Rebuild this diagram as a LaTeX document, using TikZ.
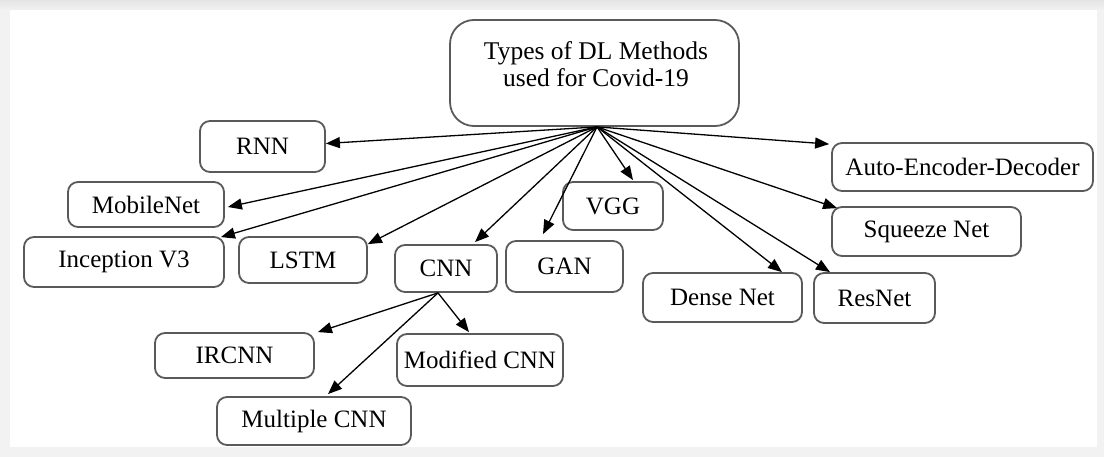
\documentclass[tikz,border=0pt]{standalone}
\usepackage{fontspec}
\setmainfont{Liberation Serif}
\usetikzlibrary{arrows.meta}
\definecolor{pagegray}{HTML}{F2F2F2}
\definecolor{stripgray}{HTML}{E4E4E4}
\definecolor{boxline}{HTML}{5A5A5A}
\begin{document}
\begin{tikzpicture}[x=1pt,y=-1pt,
  box/.style={draw=boxline,line width=1.8pt,rounded corners=10pt,fill=white,
    inner sep=0pt,font=\fontsize{25}{28}\selectfont},
  link/.style={line width=1.3pt,-{Triangle[length=14pt,width=11pt]}}]
  % page frame
  \useasboundingbox (0,0) rectangle (1104,457);
  \fill[pagegray] (0,0) rectangle (1104,457);
  \shade[top color=stripgray,bottom color=pagegray] (0,0) rectangle (1104,10);
  \fill[white] (10,10) rectangle (1097,447);

  % root
  \node[box,rounded corners=24pt,minimum width=289pt,minimum height=106pt] (top) at (594.5,73) {};
  \node[align=center,inner sep=0pt,font=\fontsize{25.5}{27}\selectfont] (toptext) at (596,64)
    {Types of DL Methods\\used for Covid-19};
  \coordinate (o) at ([xshift=2.5pt]top.south);

  % methods
  \node[box,minimum width=125pt,minimum height=51pt] (rnn)   at (262.5,146.5) {RNN};
  \node[box,minimum width=156pt,minimum height=45pt] (mob)   at (146,204.5)   {MobileNet};
  \node[box,minimum width=200pt,minimum height=50pt] (inc)   at (124,262)     {Inception V3};
  \node[box,minimum width=128pt,minimum height=46pt] (lstm)  at (303,260)     {LSTM};
  \node[box,minimum width=102pt,minimum height=47pt] (cnn)   at (446,268.5)   {CNN};
  \node[box,minimum width=117pt,minimum height=51pt] (gan)   at (564.5,266.5) {GAN};
  \node[box,minimum width=100pt,minimum height=48pt] (vgg)   at (613,206)     {VGG};
  \node[box,minimum width=159pt,minimum height=49pt] (dense) at (722.5,297.5) {Dense Net};
  \node[box,minimum width=121pt,minimum height=50pt] (res)   at (874.5,298)   {ResNet};
  \node[box,minimum width=261pt,minimum height=48pt] (auto)  at (962.5,167)   {Auto-Encoder-Decoder};
  \node[box,minimum width=189pt,minimum height=49pt] (sq)    at (926.5,231.5) {Squeeze Net};

  % CNN variants
  \node[box,minimum width=159pt,minimum height=45pt] (ircnn) at (234.5,355.5) {IRCNN};
  \node[box,minimum width=166pt,minimum height=52pt] (mod)   at (480,360)     {Modified CNN};
  \node[box,minimum width=194pt,minimum height=48pt] (mult)  at (314,421)     {Multiple CNN};

  % links from the root
  \draw[link] (o) -- ([yshift=3pt]rnn.east);
  \draw[link] (o) -- ([xshift=3pt,yshift=-2.5pt]mob.east);
  \draw[link] (o) -- ([xshift=-4pt,yshift=-1pt]inc.north east);
  \draw[link] (o) -- ([yshift=-8pt]lstm.north east);
  \draw[link] (o) -- ([xshift=29pt,yshift=2pt]cnn.north);
  \draw[link] (o) -- ([xshift=-21.5pt,yshift=6pt]gan.north);
  \draw[link] (o) -- ([xshift=20pt,yshift=1pt]vgg.north);
  \draw[link] (o) -- ([xshift=59.5pt]dense.north);
  \draw[link] (o) -- ([xshift=-44.5pt]res.north);
  \draw[link] (o) -- ([xshift=6pt,yshift=-2pt]sq.north west);
  \draw[link] (o) -- ([xshift=-2pt,yshift=-2pt]auto.north west);

  % links from CNN
  \coordinate (c) at ([xshift=-8pt]cnn.south);
  \draw[link] (c) -- ([xshift=3pt]ircnn.north east);
  \draw[link] (c) -- ([xshift=14pt,yshift=2pt]mult.north);
  \draw[link] (c) -- ([xshift=-11pt,yshift=1pt]mod.north);
\end{tikzpicture}
\end{document}
